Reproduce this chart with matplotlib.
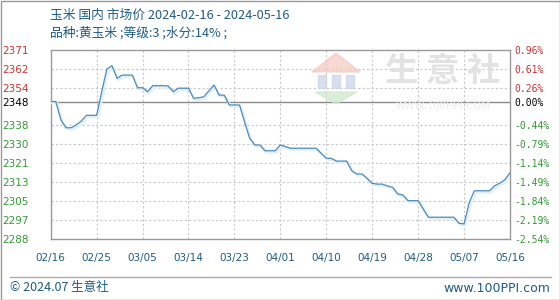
import numpy as np
import pandas as pd
import matplotlib
matplotlib.use("Agg")
import matplotlib.pyplot as plt
import matplotlib.dates as mdates
import matplotlib.transforms as mtransforms
from matplotlib.patches import Polygon, Rectangle

plt.rcParams['font.family'] = ['Noto Sans CJK SC', 'DejaVu Sans']

# daily price (2024-02-16 .. 2024-05-16)
start_date = "2024-02-16"
end_date = "2024-05-16"
prices = [
    2348.0, 2348.0, 2340.0, 2336.6, 2336.6, 2337.8, 2339.5, 2342.0, 2342.0, 2342.0,
    2352.3, 2362.1, 2363.6, 2358.1, 2359.5, 2359.5, 2359.5, 2354.0, 2354.0, 2352.3,
    2354.9, 2354.9, 2354.9, 2354.8, 2352.3, 2353.8, 2353.8, 2353.8, 2349.4, 2349.6,
    2350.1, 2352.6, 2355.2, 2350.8, 2350.8, 2346.5, 2346.5, 2346.5, 2339.0, 2332.0,
    2329.1, 2329.1, 2326.6, 2326.6, 2326.6, 2329.1, 2328.4, 2327.7, 2327.7, 2327.7,
    2327.7, 2327.7, 2327.7, 2325.5, 2323.3, 2323.3, 2322.1, 2322.1, 2322.1, 2317.9,
    2316.5, 2316.5, 2314.6, 2312.4, 2312.1, 2312.1, 2311.3, 2310.7, 2307.8, 2307.4,
    2304.9, 2304.9, 2304.9, 2301.3, 2297.7, 2297.7, 2297.7, 2297.7, 2297.7, 2297.7,
    2295.1, 2294.8, 2304.0, 2309.2, 2309.2, 2309.2, 2309.2, 2311.4, 2312.5, 2314.0,
    2317.0,
]
base_price = 2348
pct_ticks = [0.96, 0.61, 0.26, -0.44, -0.79, -1.14, -1.49, -1.84, -2.19, -2.54]
price_labels = ["2371", "2362", "2354", "2338", "2330", "2321", "2313", "2305", "2297", "2288"]
pct_labels = ["0.96%", "0.61%", "0.26%", "-0.44%", "-0.79%", "-1.14%", "-1.49%", "-1.84%", "-2.19%", "-2.54%"]

title_line1 = "玉米 国内 市场价 2024-02-16 - 2024-05-16"
title_line2 = "品种:黄玉米 ;等级:3 ;水分:14% ;"

dates = pd.date_range(start_date, end_date, freq="D")
tick_dates = pd.date_range(start_date, end_date, freq="9D")

RED = "#cc3333"
GREEN = "#339933"
BLUE_TXT = "#1f5b86"
LINE = "#4a8bbd"


def fpt(x, y):
    # pixel position (from top-left) -> figure fraction
    return (x / 560, (300 - y) / 300)


def label_color(v):
    if v == base_price:
        return "black"
    return RED if v > base_price else GREEN


fig = plt.figure(figsize=(5.6, 3.0), dpi=100)
ax = fig.add_axes([50.7 / 560, 61.3 / 300, 459.3 / 560, 189 / 300])

grid_vals = [base_price * (1 + p / 100) for p in pct_ticks]
ax.set_ylim(grid_vals[-1], grid_vals[0])
ax.set_xlim(dates[0], dates[-1])

# grid
for g in grid_vals[1:-1]:
    ax.axhline(g, color="#c8c8c8", lw=0.8, ls=(0, (2, 2)), zorder=1)
for t in tick_dates[1:-1]:
    ax.axvline(t, color="#c8c8c8", lw=0.8, ls=(0, (2, 2)), zorder=1)
ax.axhline(base_price, color="#8a8a8a", lw=1.0, zorder=2)

# watermark
roof = Polygon([fpt(312, 72), fpt(336, 53), fpt(360, 72)], closed=True,
               transform=fig.transFigure, color="#f4c8c0", alpha=0.7, zorder=0.5)
fig.patches.append(roof)
for bx in (318, 332, 346):
    fig.patches.append(Rectangle(fpt(bx, 88), 8 / 560, 13 / 300, transform=fig.transFigure,
                                 color="#c8d4e8", alpha=0.7, zorder=0.5))
leaf = Polygon([fpt(315, 92), fpt(357, 92), fpt(336, 104)], closed=True,
               transform=fig.transFigure, color="#cde8c8", alpha=0.7, zorder=0.5)
fig.patches.append(leaf)
fig.text(*fpt(443, 71), "生 意 社", fontsize=24, color="#e2e2e2", ha="center", va="center",
         fontweight="bold", zorder=0.5)
fig.text(*fpt(443, 106), "WWW.100PPI.COM", fontsize=8, color="#ececec", ha="center",
         va="center", zorder=0.5)

# price line with a faint halo
halo = mtransforms.offset_copy(ax.transData, fig=fig, x=1.0, y=-1.2, units="points")
ax.plot(dates, prices, color="#e2f0f9", lw=1.8, transform=halo, zorder=3)
ax.plot(dates, prices, color=LINE, lw=0.9, zorder=4)

for s in ax.spines.values():
    s.set_color("#999999")
    s.set_linewidth(1.0)

# left price labels
yvals = grid_vals + [base_price]
ax.set_yticks(yvals)
ax.set_yticklabels(price_labels + [str(base_price)], fontsize=7.5, family="DejaVu Sans")
for lab, v in zip(ax.get_yticklabels(), yvals):
    lab.set_color(label_color(v))
ax.tick_params(axis="y", length=0, pad=16)

# right percent labels
ax2 = ax.twinx()
ax2.set_ylim(ax.get_ylim())
ax2.set_yticks(yvals)
ax2.set_yticklabels(pct_labels + ["0.00%"], fontsize=7, family="DejaVu Sans Mono")
for lab, v in zip(ax2.get_yticklabels(), yvals):
    lab.set_color(label_color(v))
ax2.tick_params(axis="y", length=0, pad=3)
ax2.spines[:].set_visible(False)

# x axis
ax.set_xticks(tick_dates)
ax.xaxis.set_major_formatter(mdates.DateFormatter("%m/%d"))
ax.tick_params(axis="x", length=0, pad=10, labelsize=7.5, labelcolor=BLUE_TXT)
for lab in ax.get_xticklabels():
    lab.set_family("DejaVu Sans")

# titles and footer
fig.text(*fpt(50, 15), title_line1, fontsize=9.2, color=BLUE_TXT, va="center", ha="left")
fig.text(*fpt(50, 33), title_line2, fontsize=9.2, color=BLUE_TXT, va="center", ha="left")
fig.add_artist(plt.Line2D([10 / 560, 551 / 560], [1 - 277 / 300] * 2, color="#aaaaaa", lw=1.0,
                          transform=fig.transFigure))
fig.text(*fpt(10, 288), "© 2024.07 生意社", fontsize=9, color=BLUE_TXT, va="center", ha="left")
fig.text(*fpt(550, 288), "www.100PPI.com", fontsize=9, color=BLUE_TXT, va="center",
         ha="right", family="DejaVu Sans")

# outer frame
fig.add_artist(Rectangle((0.5 / 560, 0.5 / 300), 559 / 560, 299 / 300, transform=fig.transFigure,
                         fill=False, edgecolor="#999999", lw=1.0))

fig.savefig("out.png", dpi=100)
